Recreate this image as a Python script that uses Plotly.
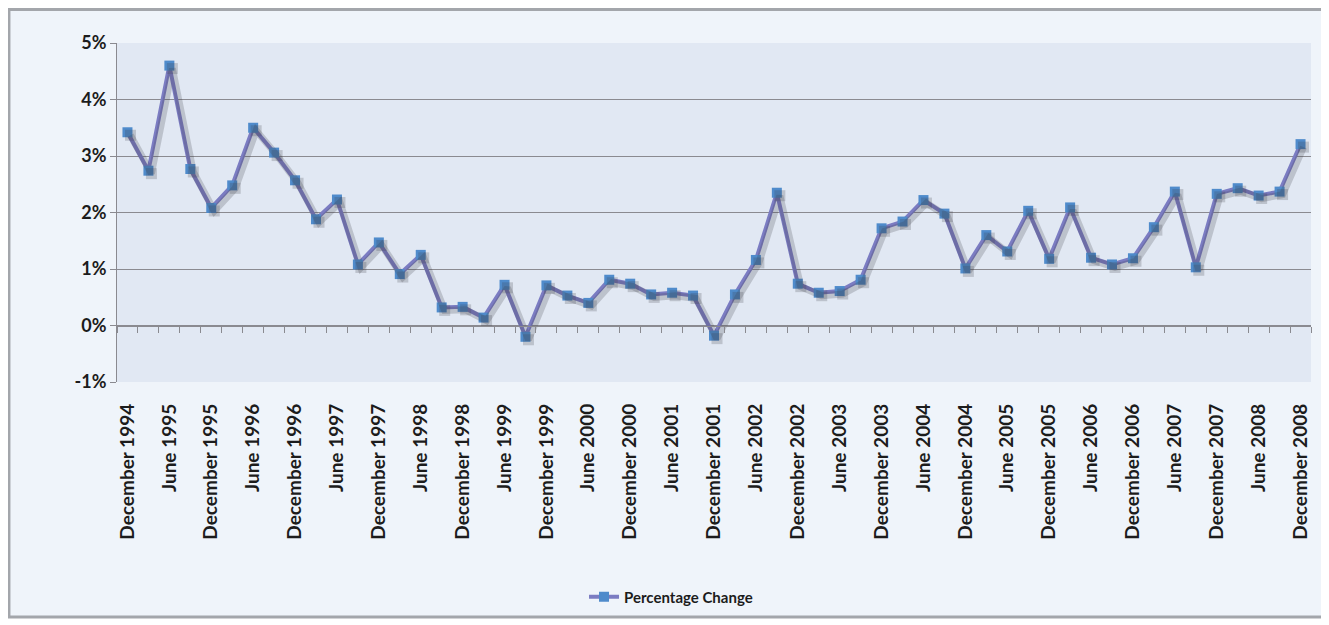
import plotly.graph_objects as go

# ---- data ----
months = ["March", "June", "September", "December"]
quarters = ["December 1994"] + [f"{m} {y}" for y in range(1995, 2009) for m in months]

pct_change = [
    3.42, 2.74, 4.60, 2.77, 2.08, 2.48, 3.50, 3.06, 2.57, 1.88,
    2.23, 1.08, 1.47, 0.91, 1.25, 0.32, 0.33, 0.14, 0.72, -0.20,
    0.71, 0.53, 0.40, 0.81, 0.74, 0.55, 0.58, 0.53, -0.18, 0.55,
    1.16, 2.35, 0.74, 0.58, 0.61, 0.81, 1.72, 1.84, 2.22, 1.98,
    1.01, 1.60, 1.31, 2.03, 1.18, 2.09, 1.20, 1.08, 1.19, 1.74,
    2.37, 1.03, 2.33, 2.43, 2.30, 2.37, 3.21,
]

label_quarters = [q for q in quarters if q.startswith("June") or q.startswith("December")]
y_ticks = [-1, 0, 1, 2, 3, 4, 5]
y_tick_text = [f"{v}%" for v in y_ticks]

# ---- styling ----
FONT = "Lato"
TXT = "#1c1c1c"
LINE_COLOR = "#7b7cc2"
MARKER_COLOR = "#4f8bcb"
GRID = "#8a8a90"
PLOT_BG = "#e1e8f3"
CHART_BG = "#eff4fa"

n = len(quarters)
xr = [-0.5, n - 0.5]
yr = [-1, 5]
# soft shadow offset (in axis units) ~3px right / 3px down
dx = 3 / (1194 / n)
dy = 3 / 57

fig = go.Figure()

# invisible carrier so the category tick axis at the 0% line renders
fig.add_trace(go.Scatter(
    x=quarters, y=pct_change, mode="markers", xaxis="x2",
    marker=dict(opacity=0), showlegend=False, hoverinfo="skip",
))

fig.add_trace(go.Scatter(
    x=quarters, y=pct_change, mode="lines+markers",
    xaxis="x3", yaxis="y2",
    line=dict(color="rgba(60,60,70,0.22)", width=7),
    marker=dict(symbol="square", size=11, color="rgba(60,60,70,0.22)"),
    showlegend=False, hoverinfo="skip",
))

fig.add_trace(go.Scatter(
    x=quarters, y=pct_change, mode="lines+markers",
    name="Percentage Change",
    line=dict(color=LINE_COLOR, width=4),
    marker=dict(symbol="square", size=10, color=MARKER_COLOR),
))

fig.update_layout(
    width=1321, height=617,
    margin=dict(l=109, r=18, t=35, b=240),
    paper_bgcolor="white",
    plot_bgcolor="rgba(0,0,0,0)",
    font=dict(family=FONT, color=TXT),
    xaxis=dict(
        type="category", categoryorder="array", categoryarray=quarters,
        range=xr, tickmode="array", tickvals=label_quarters, ticktext=label_quarters,
        tickangle=-90, tickfont=dict(family=FONT, size=19, color=TXT, weight="bold"),
        ticklabelstandoff=17,
        showgrid=False, showline=False, ticks="", zeroline=False,
    ),
    xaxis2=dict(
        type="category", categoryorder="array", categoryarray=quarters,
        overlaying="x", range=xr, anchor="free", position=1 / 6,
        showticklabels=False, ticks="outside", tickson="boundaries",
        tickmode="linear", dtick=1, ticklen=6, tickcolor=GRID, tickwidth=1,
        showline=True, linecolor=GRID, linewidth=1, showgrid=False, zeroline=False,
    ),
    xaxis3=dict(
        type="category", categoryorder="array", categoryarray=quarters,
        overlaying="x", range=[xr[0] - dx, xr[1] - dx], visible=False,
    ),
    yaxis=dict(
        range=yr, tickmode="array", tickvals=y_ticks, ticktext=y_tick_text,
        tickfont=dict(family=FONT, size=18, color=TXT, weight="bold"),
        showgrid=True, gridcolor=GRID, gridwidth=1,
        showline=True, linecolor=GRID, linewidth=1,
        ticks="outside", ticklen=6, tickcolor=GRID, zeroline=False,
    ),
    yaxis2=dict(
        overlaying="y", range=[yr[0] + dy, yr[1] + dy], visible=False,
    ),
    legend=dict(
        orientation="h", x=0.464, xanchor="center", y=-0.634, yanchor="middle",
        font=dict(family=FONT, size=15, color=TXT, weight="bold"),
        bgcolor="rgba(0,0,0,0)",
    ),
    shapes=[
        dict(type="rect", xref="paper", yref="paper",
             x0=-0.0905, x1=1.0117, y0=-0.693, y1=1.099,
             fillcolor=CHART_BG, line=dict(color="#a3a6ab", width=3), layer="below"),
        dict(type="rect", xref="x domain", yref="y domain",
             x0=0, x1=1, y0=0, y1=1,
             fillcolor=PLOT_BG, line=dict(width=0), layer="below"),
    ],
)

fig.write_html("out.html")
